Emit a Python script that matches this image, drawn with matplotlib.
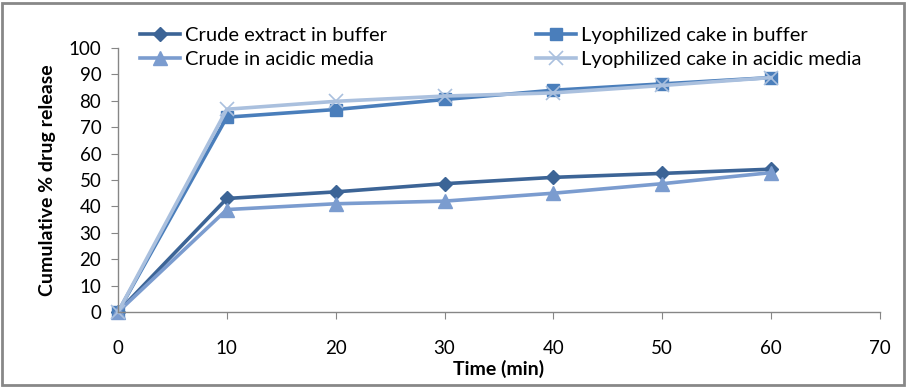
import matplotlib
matplotlib.use("Agg")
import matplotlib.pyplot as plt
from matplotlib.patches import Rectangle

plt.rcParams["font.family"] = ["Lato", "DejaVu Sans"]

time_min = [0, 10, 20, 30, 40, 50, 60]
crude_buffer = [0, 43, 45.5, 48.6, 51, 52.5, 54.1]
lyo_buffer = [0, 73.8, 76.7, 80.5, 84, 86.4, 88.8]
crude_acidic = [0, 38.8, 41, 42, 45, 48.6, 52.8]
lyo_acidic = [0, 76.8, 79.8, 81.8, 83, 85.8, 88.8]

x_ticks = [0, 10, 20, 30, 40, 50, 60, 70]
y_ticks = [0, 10, 20, 30, 40, 50, 60, 70, 80, 90, 100]

fig = plt.figure(figsize=(9.06, 3.87), dpi=100)
ax = fig.add_axes([118 / 906, 1 - 312 / 387, (880 - 118) / 906, (312 - 48) / 387])

l1, = ax.plot(time_min, crude_buffer, color="#3C6496", lw=2.6, marker="D", ms=7.5,
              label="Crude extract in buffer", clip_on=False)
l2, = ax.plot(time_min, lyo_buffer, color="#4A7EBB", lw=2.6, marker="s", ms=9,
              label="Lyophilized cake in buffer", clip_on=False)
l3, = ax.plot(time_min, crude_acidic, color="#7B9CCF", lw=2.6, marker="^", ms=10,
              label="Crude in acidic media", clip_on=False)
l4, = ax.plot(time_min, lyo_acidic, color="#AAC0DE", lw=2.6, marker="x", ms=10, mew=1.2,
              label="Lyophilized cake in acidic media", clip_on=False)

ax.set_xlim(0, 70)
ax.set_ylim(0, 100)
ax.set_xticks(x_ticks)
ax.set_yticks(y_ticks)
for s in ["top", "right"]:
    ax.spines[s].set_visible(False)
for s in ["left", "bottom"]:
    ax.spines[s].set_color("#868686")
    ax.spines[s].set_linewidth(1.0)
ax.tick_params(axis="both", colors="#868686", labelcolor="black", labelsize=13.5, length=5)
ax.tick_params(axis="x", pad=15)
ax.tick_params(axis="y", pad=7)

ax.set_xlabel("Time (min)", fontsize=14, fontweight="bold", labelpad=2)
ax.set_ylabel("Cumulative % drug release", fontsize=14, fontweight="bold", labelpad=9)

kw = dict(frameon=False, fontsize=14.5, handlelength=2.0, handletextpad=0.25,
          labelspacing=0.35, borderpad=0, borderaxespad=0)
leg1 = fig.legend(handles=[l1, l3], loc="upper left", bbox_to_anchor=(140 / 906, 1 - 27 / 387), **kw)
leg2 = fig.legend(handles=[l2, l4], loc="upper left", bbox_to_anchor=(536 / 906, 1 - 27 / 387), **kw)

fig.add_artist(Rectangle((2 / 906, 2 / 387), 902 / 906, 382 / 387, transform=fig.transFigure,
                         fill=False, edgecolor="#888888", lw=2))

fig.savefig("out.png", dpi=100)
